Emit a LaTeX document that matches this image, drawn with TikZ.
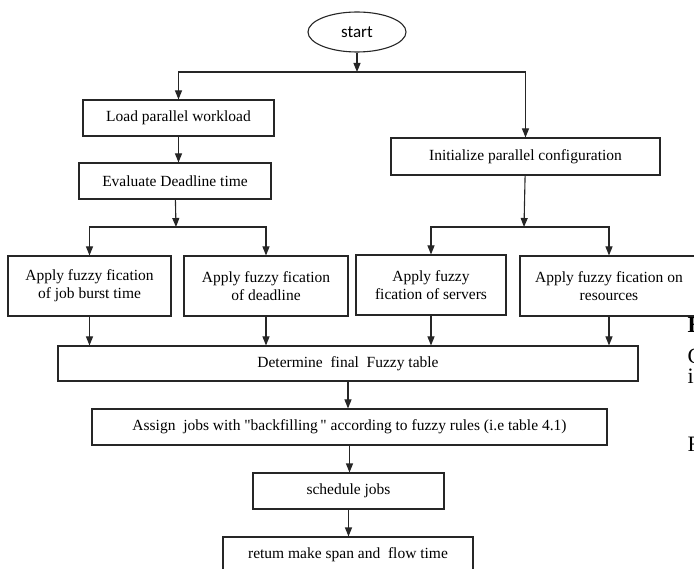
\documentclass[tikz,border=0pt]{standalone}
\usepackage{fontspec}
\setmainfont{Liberation Serif}
\newfontfamily\startfont{Carlito}
\newcommand\strq{\XeTeXglyph\XeTeXcharglyph"22\relax}
\usetikzlibrary{arrows.meta,shapes.geometric}
\begin{document}
\begin{tikzpicture}[x=1pt,y=-1pt,
  line width=1.1pt,
  box/.style={draw=black!85, rectangle, inner sep=0pt, align=center,
    font=\fontsize{15.5}{18}\selectfont},
  arr/.style={draw=black!85, -{Triangle[width=7pt,length=9pt]}},
  stray/.style={anchor=base west, inner sep=0pt, font=\fontsize{22}{24}\selectfont}]
\useasboundingbox (0,0) rectangle (694,569);
\begin{scope}
\clip (0,0) rectangle (694,569);
\node[draw=black!85, ellipse, minimum width=98pt, minimum height=40pt, inner sep=0pt,
  font=\startfont\fontsize{17}{20}\selectfont] (start) at (357,32) {start};
\node[box, minimum width=191pt, minimum height=36pt] (load) at (178.5,118) {Load parallel workload};
\node[box, minimum width=192pt, minimum height=36pt] (eval) at (175,181) {Evaluate Deadline time};
\node[box, minimum width=269pt, minimum height=37pt] (init) at (525.5,156.5) {Initialize parallel configuration};
\node[box, minimum width=163pt, minimum height=60pt] (f1) at (89.5,286) {Apply fuzzy fication\\of job burst time};
\node[box, minimum width=164pt, minimum height=60pt] (f2) at (266,286) {Apply fuzzy fication\\of deadline};
\node[box, minimum width=150pt, minimum height=60pt] (f3) at (431,285) {Apply fuzzy\\fication of servers};
\node[box, minimum width=178pt, minimum height=60pt] (f4) at (609,286) {Apply fuzzy fication on\\resources};
\node[box, minimum width=580pt, minimum height=35pt] (det) at (348,363.5) {Determine\ \ final\ \ Fuzzy table};
\node[box, minimum width=515pt, minimum height=36pt] (assign) at (349.5,427) {Assign\ \ jobs with \strq backfilling\,\strq\ according to fuzzy rules (i.e table 4.1)};
\node[box, minimum width=191pt, minimum height=36pt] (sched) at (348.5,491) {schedule jobs};
\node[box, minimum width=250pt, minimum height=36pt] (ret) at (348,555) {retum make span and\ \ flow time};

\coordinate (j1) at (357,72);
\coordinate (j2) at (176,227);
\coordinate (j3) at (524,227);

\draw[arr] (start) -- (j1);
\draw[arr] (j1) -| (load);
\draw[arr] (j1) -| (init);
\draw[arr] (load) -- (load |- eval.north);
\draw[arr] (eval) -- (j2);
\draw[arr] (j2) -| (f1);
\draw[arr] (j2) -| (f2);
\draw[arr] (init) -- (j3);
\draw[arr] (j3) -| (f3);
\draw[arr] (j3) -| (f4);
\draw[arr] (f1) -- (f1 |- det.north);
\draw[arr] (f2) -- (f2 |- det.north);
\draw[arr] (f3) -- (f3 |- det.north);
\draw[arr] (f4) -- (f4 |- det.north);
\draw[arr] (det) -- (det |- assign.north);
\draw[arr] (assign) -- (assign |- sched.north);
\draw[arr] (sched) -- (sched |- ret.north);

\fill[white] (684,317) rectangle (694,336);
\node[stray, font=\fontsize{23}{24}\selectfont\bfseries] (s1) at (687,333) {E};
\node[stray] (s2) at (687,364) {C};
\node[stray] (s3) at (687,384) {i};
\node[stray] (s4) at (687,451) {F};
\end{scope}
\end{tikzpicture}
\end{document}
